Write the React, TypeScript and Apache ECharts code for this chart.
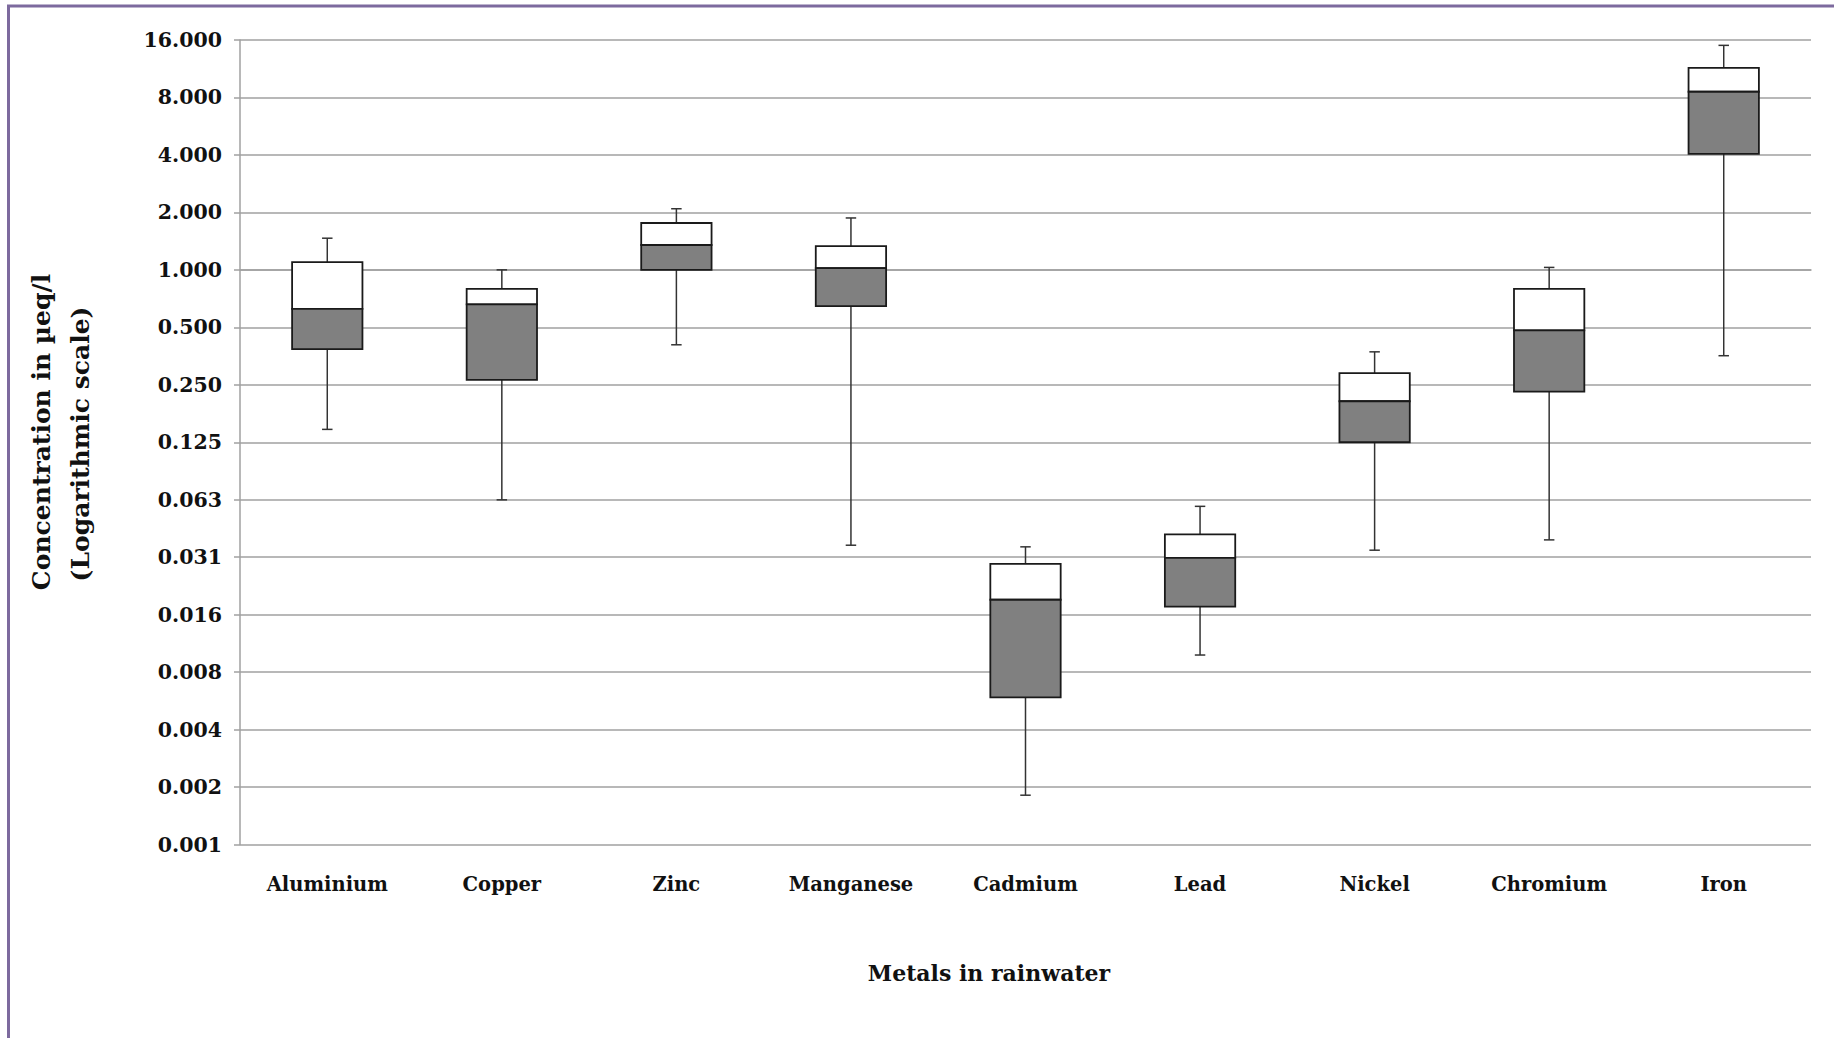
import React, { useEffect, useRef } from "react";
import * as echarts from "echarts";

const categories = ["Aluminium", "Copper", "Zinc", "Manganese", "Cadmium", "Lead", "Nickel", "Chromium", "Iron"];
const minValues = [0.146, 0.0624, 0.405, 0.0361, 0.00177, 0.0096, 0.034, 0.0385, 0.355];
const q1Values = [0.384, 0.265, 1.0, 0.645, 0.00576, 0.0172, 0.125, 0.23, 4.05];
const medianValues = [0.625, 0.659, 1.35, 1.02, 0.0187, 0.031, 0.205, 0.482, 8.57];
const q3Values = [1.097, 0.795, 1.76, 1.33, 0.0288, 0.0411, 0.288, 0.795, 11.44];
const maxValues = [1.465, 1.0, 2.09, 1.87, 0.0354, 0.0577, 0.372, 1.03, 15.0];
const tickLabels = [
  "0.001", "0.002", "0.004", "0.008", "0.016", "0.031", "0.063",
  "0.125", "0.250", "0.500", "1.000", "2.000", "4.000", "8.000", "16.000",
];
const minExponent = -10;
const maxExponent = 4;

const FONT = "'DejaVu Serif', 'Liberation Serif', serif";

export default function App() {
  const ref = useRef<HTMLDivElement>(null);
  useEffect(() => {
    if (!ref.current) return;
    const chart = echarts.init(ref.current, undefined, { renderer: "svg" });
    const data = categories.map((_, i) => [
      i,
      Math.log2(minValues[i]),
      Math.log2(q1Values[i]),
      Math.log2(medianValues[i]),
      Math.log2(q3Values[i]),
      Math.log2(maxValues[i]),
    ]);
    const option: any = {
      animation: false,
      backgroundColor: "#ffffff",
      grid: { left: 240, right: 23, top: 40, bottom: 193.5, containLabel: false },
      xAxis: {
        type: "category",
        data: categories,
        boundaryGap: true,
        axisLine: { show: true, lineStyle: { color: "#a0a0a0", width: 1.5 } },
        axisTick: { show: false },
        axisLabel: {
          margin: 30,
          color: "#111",
          fontFamily: FONT,
          fontWeight: "bold",
          fontSize: 19.5,
        },
        splitLine: { show: false },
      },
      yAxis: {
        type: "value",
        min: minExponent,
        max: maxExponent,
        interval: 1,
        axisLine: { show: true, lineStyle: { color: "#a0a0a0", width: 1.5 } },
        axisTick: { show: true, inside: false, length: 6, lineStyle: { color: "#a0a0a0", width: 1.5 } },
        axisLabel: {
          margin: 18,
          color: "#111",
          fontFamily: FONT,
          fontWeight: "bold",
          fontSize: 20.5,
          formatter: (v: number) => tickLabels[Math.round(v) - minExponent] ?? "",
        },
        splitLine: { show: true, lineStyle: { color: "#a0a0a0", width: 1.5 } },
      },
      graphic: [
        {
          type: "line",
          shape: { x1: 7, y1: 6, x2: 1834, y2: 6 },
          style: { stroke: "#7d6a9e", lineWidth: 3 },
        },
        {
          type: "line",
          shape: { x1: 8.5, y1: 5, x2: 8.5, y2: 1038 },
          style: { stroke: "#7d6a9e", lineWidth: 3 },
        },
        {
          type: "text",
          x: 989,
          y: 973,
          style: {
            text: "Metals in rainwater",
            font: `bold 22px ${FONT}`,
            fill: "#111",
            textAlign: "center",
            textVerticalAlign: "middle",
          },
        },
        {
          type: "text",
          x: 41,
          y: 432,
          rotation: Math.PI / 2,
          style: {
            text: "Concentration in µeq/l",
            font: `bold 25px ${FONT}`,
            fill: "#111",
            textAlign: "center",
            textVerticalAlign: "middle",
          },
        },
        {
          type: "text",
          x: 80,
          y: 444,
          rotation: Math.PI / 2,
          style: {
            text: "(Logarithmic scale)",
            font: `bold 25px ${FONT}`,
            fill: "#111",
            textAlign: "center",
            textVerticalAlign: "middle",
          },
        },
      ],
      series: [
        {
          type: "custom",
          data,
          encode: { x: 0, y: [1, 2, 3, 4, 5] },
          renderItem: (params: any, api: any) => {
            const x = api.value(0);
            const lo = api.coord([x, api.value(1)]);
            const q1 = api.coord([x, api.value(2)]);
            const med = api.coord([x, api.value(3)]);
            const q3 = api.coord([x, api.value(4)]);
            const hi = api.coord([x, api.value(5)]);
            const band = api.size([1, 0])[0];
            const w = band * 0.403;
            const cap = band * 0.06;
            const cx = lo[0];
            const whisker = { stroke: "#333", lineWidth: 1.5 };
            return {
              type: "group",
              children: [
                { type: "line", shape: { x1: cx, y1: hi[1], x2: cx, y2: q3[1] }, style: whisker },
                { type: "line", shape: { x1: cx, y1: q1[1], x2: cx, y2: lo[1] }, style: whisker },
                { type: "line", shape: { x1: cx - cap / 2, y1: hi[1], x2: cx + cap / 2, y2: hi[1] }, style: whisker },
                { type: "line", shape: { x1: cx - cap / 2, y1: lo[1], x2: cx + cap / 2, y2: lo[1] }, style: whisker },
                {
                  type: "rect",
                  shape: { x: cx - w / 2, y: q3[1], width: w, height: med[1] - q3[1] },
                  style: { fill: "#ffffff", stroke: "#1a1a1a", lineWidth: 1.8 },
                },
                {
                  type: "rect",
                  shape: { x: cx - w / 2, y: med[1], width: w, height: q1[1] - med[1] },
                  style: { fill: "#808080", stroke: "#1a1a1a", lineWidth: 1.8 },
                },
              ],
            };
          },
        },
      ],
    };
    chart.setOption(option);
    return () => chart.dispose();
  }, []);
  return (
    <div
      ref={ref}
      style={{ position: "absolute", left: 0, top: 0, width: 1834, height: 1038 }}
    />
  );
}
